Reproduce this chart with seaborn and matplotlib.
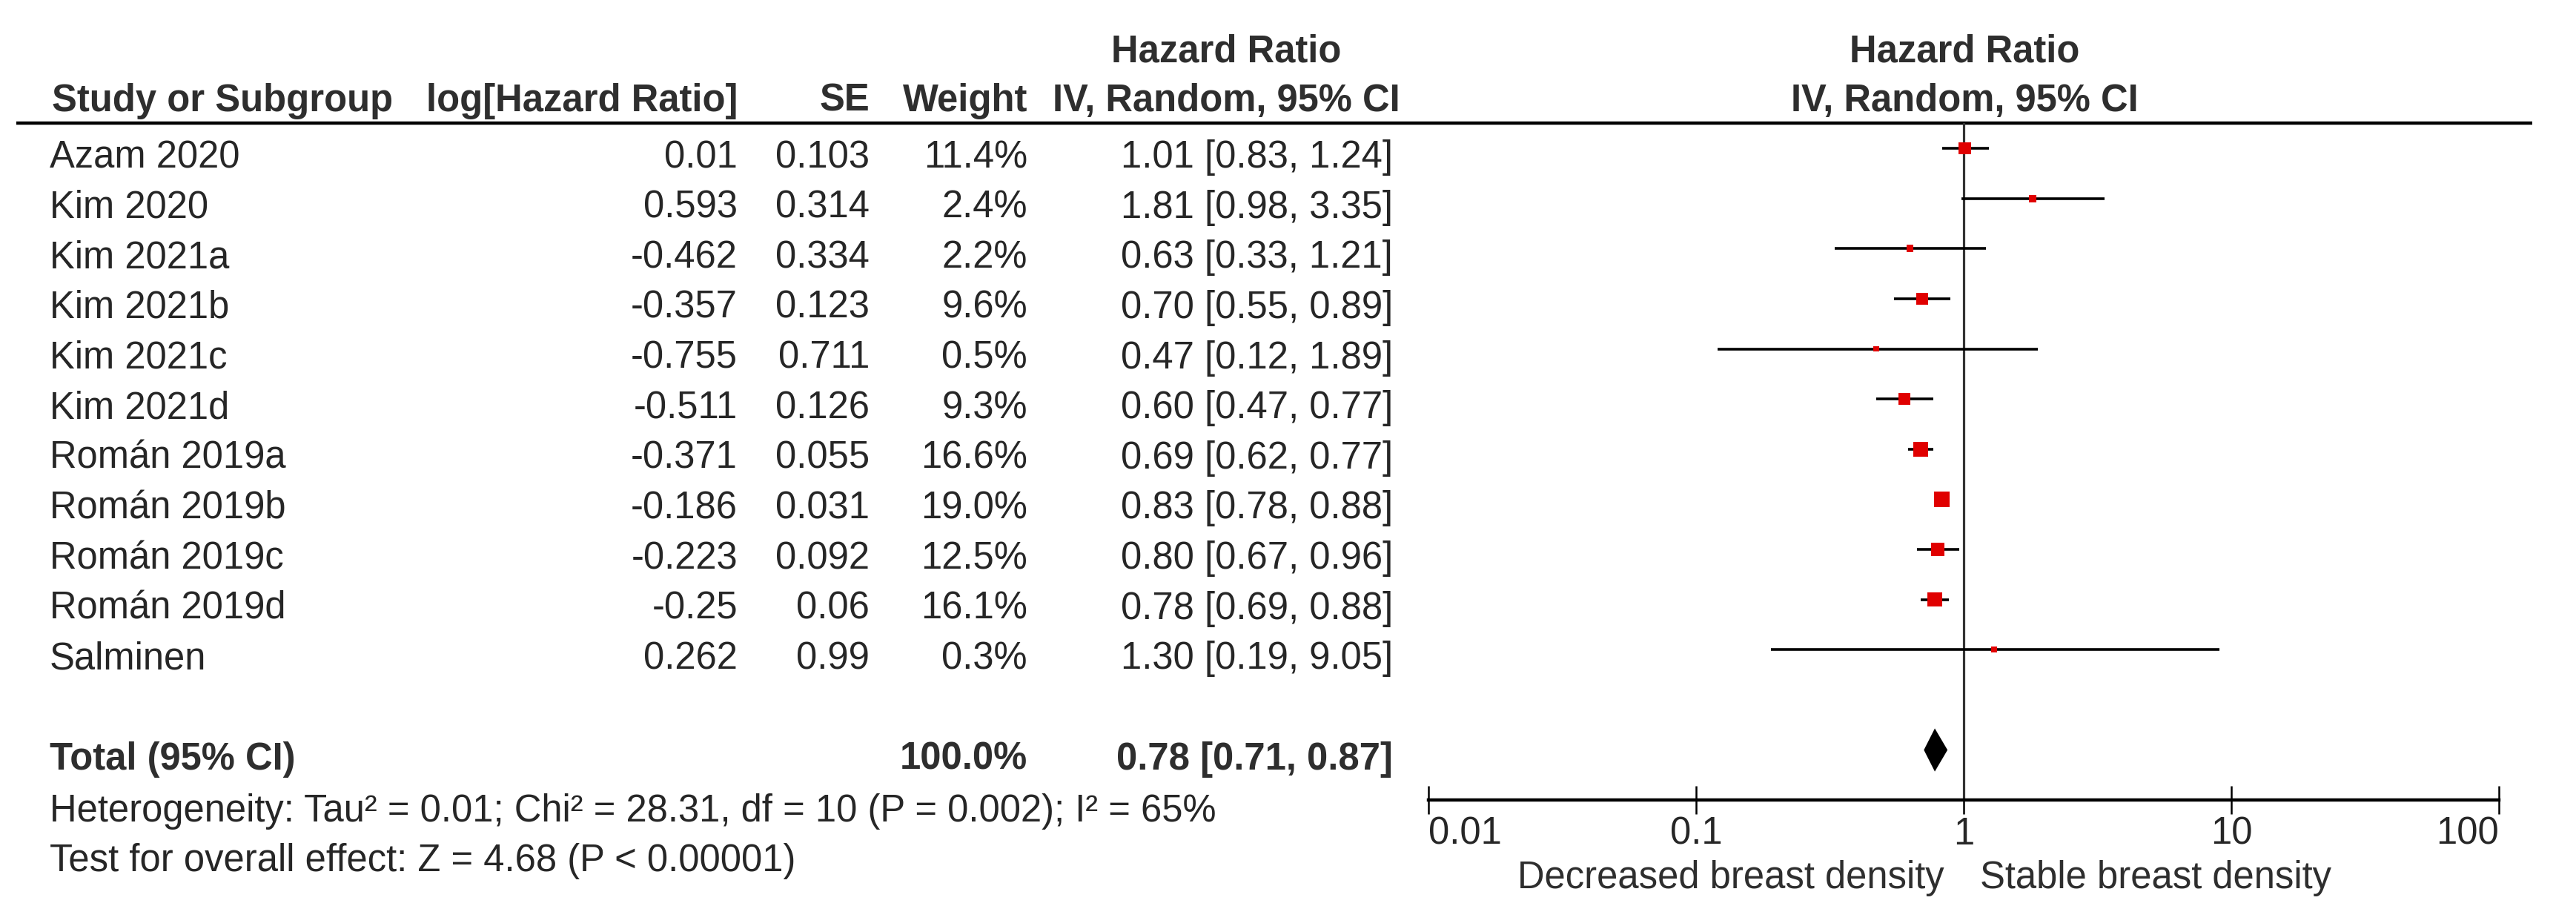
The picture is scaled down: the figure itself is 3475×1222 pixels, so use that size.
import matplotlib
matplotlib.use('Agg')
import matplotlib.pyplot as plt
import seaborn as sns
import pandas as pd


studies = ['Azam 2020', 'Kim 2020', 'Kim 2021a', 'Kim 2021b', 'Kim 2021c', 'Kim 2021d',
           'Román 2019a', 'Román 2019b', 'Román 2019c', 'Román 2019d', 'Salminen']
log_hr = ['0.01', '0.593', '-0.462', '-0.357', '-0.755', '-0.511',
          '-0.371', '-0.186', '-0.223', '-0.25', '0.262']
se = ['0.103', '0.314', '0.334', '0.123', '0.711', '0.126',
      '0.055', '0.031', '0.092', '0.06', '0.99']
weight = [11.4, 2.4, 2.2, 9.6, 0.5, 9.3, 16.6, 19.0, 12.5, 16.1, 0.3]
hr = [1.01, 1.81, 0.63, 0.70, 0.47, 0.60, 0.69, 0.83, 0.80, 0.78, 1.30]
ci_low = [0.83, 0.98, 0.33, 0.55, 0.12, 0.47, 0.62, 0.78, 0.67, 0.69, 0.19]
ci_high = [1.24, 3.35, 1.21, 0.89, 1.89, 0.77, 0.77, 0.88, 0.96, 0.88, 9.05]

total_hr = 0.78
total_low = 0.71
total_high = 0.87
total_weight = '100.0%'

ticks = [0.01, 0.1, 1, 10, 100]
tick_labels = ['0.01', '0.1', '1', '10', '100']

heterogeneity = 'Heterogeneity: Tau² = 0.01; Chi² = 28.31, df = 10 (P = 0.002); I² = 65%'
overall = 'Test for overall effect: Z = 4.68 (P < 0.00001)'

df = pd.DataFrame({'study': studies, 'hr': hr, 'lo': ci_low, 'hi': ci_high, 'w': weight})
df['row'] = range(len(df))
total_row = len(df) + 1

# layout in pixels
W, H = 3475, 1222
row_h = 67.63
row0 = 200
head_col = '#2e2e2e'
fs = 36.5

sns.set_theme(style='white')
plt.rcParams['font.family'] = ['Liberation Sans', 'DejaVu Sans']

fig = plt.figure(figsize=(W / 100, H / 100), dpi=100)

# table axes: x in pixels, y in rows
tab = fig.add_axes([0, 0, 1, 1])
tab.set_xlim(0, W)
tab.set_ylim((H - row0) / row_h, -row0 / row_h)
tab.axis('off')

top_px = row0 - 0.5 * row_h
bot_px = row0 + 13 * row_h
ax = fig.add_axes([1927 / W, 1 - bot_px / H, (3371 - 1927) / W, (bot_px - top_px) / H])
ax.set_xscale('log')
ax.set_xlim(0.01, 100)
ax.set_ylim(13, -0.5)
ax.patch.set_alpha(0)

# header
hb = dict(fontsize=fs, fontweight='bold', color=head_col, va='baseline')
tab.text(1654, -1.73, 'Hazard Ratio', ha='center', **hb)
tab.text(2650, -1.73, 'Hazard Ratio', ha='center', **hb)
tab.text(70, -0.74, 'Study or Subgroup', ha='left', **hb)
tab.text(995, -0.74, 'log[Hazard Ratio]', ha='right', **hb)
tab.text(1173, -0.74, 'SE', ha='right', **hb)
tab.text(1386, -0.74, 'Weight', ha='right', **hb)
tab.text(1654, -0.74, 'IV, Random, 95% CI', ha='center', **hb)
tab.text(2650, -0.74, 'IV, Random, 95% CI', ha='center', **hb)
tab.hlines(-0.5, 22, 3416, color='black', linewidth=3.2)

# study rows
off = 0.385
for i, r in df.iterrows():
    y = r['row'] + off
    tab.text(67, y, r['study'], ha='left', va='baseline', fontsize=fs)
    tab.text(995, y, log_hr[i], ha='right', va='baseline', fontsize=fs)
    tab.text(1173, y, se[i], ha='right', va='baseline', fontsize=fs)
    tab.text(1386, y, f"{r['w']:.1f}%", ha='right', va='baseline', fontsize=fs)
    tab.text(1879, y, f"{r['hr']:.2f} [{r['lo']:.2f}, {r['hi']:.2f}]", ha='right', va='baseline', fontsize=fs)

# total row
tb = dict(fontsize=fs, fontweight='bold', color=head_col, va='baseline')
tab.text(67, total_row + off, 'Total (95% CI)', ha='left', **tb)
tab.text(1386, total_row + off, total_weight, ha='right', **tb)
tab.text(1879, total_row + off, f'{total_hr:.2f} [{total_low:.2f}, {total_high:.2f}]', ha='right', **tb)

tab.text(67, 13.43, heterogeneity, ha='left', va='baseline', fontsize=fs)
tab.text(67, 14.42, overall, ha='left', va='baseline', fontsize=fs)

# forest
ax.axvline(1, color='#333333', linewidth=2.3, zorder=1)
ax.hlines(df['row'], df['lo'], df['hi'], color='black', linewidth=2.6, zorder=2)
sns.scatterplot(data=df, x='hr', y='row', size='w', sizes=(30, 230), size_norm=(0.3, 19.0),
                marker='s', color='#e00000', linewidth=0, legend=False, ax=ax, zorder=3)
ax.fill([total_low, total_hr, total_high, total_hr],
        [total_row, total_row - 0.43, total_row, total_row + 0.43],
        color='black', linewidth=0, zorder=3)

for s in ['top', 'left', 'right']:
    ax.spines[s].set_visible(False)
ax.spines['bottom'].set_linewidth(3.2)
ax.spines['bottom'].set_color('black')
ax.set_yticks([])
ax.set_xlabel('')
ax.set_ylabel('')
ax.set_xticks(ticks)
ax.set_xticklabels(tick_labels, fontsize=fs)
ax.minorticks_off()
ax.tick_params(axis='x', which='major', direction='inout', length=27, width=1.8,
               color='black', pad=2, bottom=True)
labels = ax.get_xticklabels()
labels[0].set_ha('left')
labels[-1].set_ha('right')

tab.text(2623, 14.76, 'Decreased breast density', ha='right', va='baseline', fontsize=fs, color=head_col)
tab.text(2671, 14.76, 'Stable breast density', ha='left', va='baseline', fontsize=fs, color=head_col)

fig.savefig('out.png', dpi=100)
